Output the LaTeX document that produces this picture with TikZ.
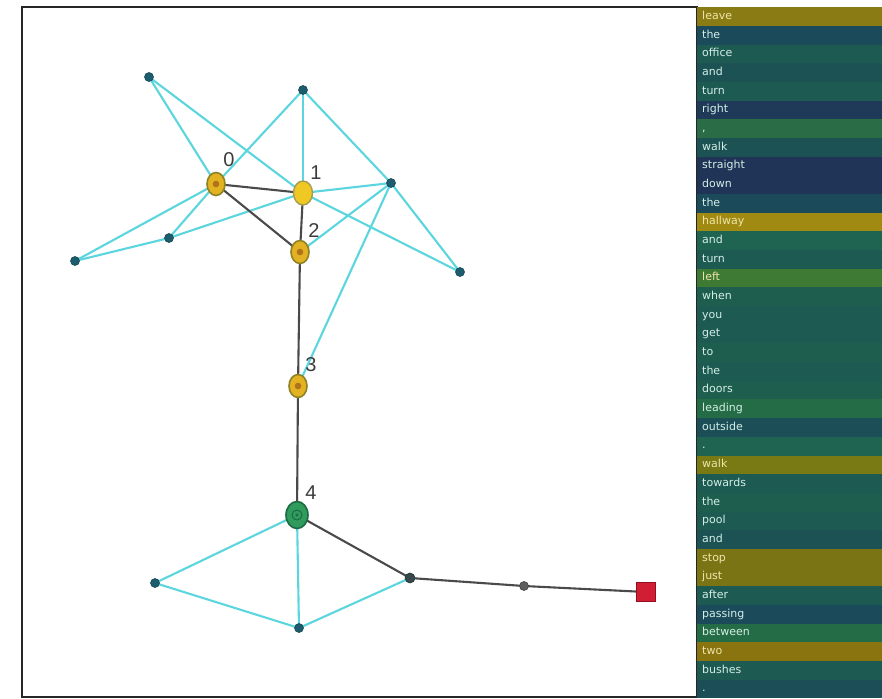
\documentclass[tikz,border=0pt]{standalone}
\usepackage{fontspec}
\setmainfont{DejaVu Sans}
\newfontfamily\labelfont{Liberation Sans}
\usetikzlibrary{shapes.geometric}

% graph colours
\definecolor{edgecyan}{HTML}{5CD6DE}
\definecolor{edgegrey}{HTML}{4A4A4A}
\definecolor{dotteal}{HTML}{1D5C6C}
\definecolor{ringgold}{HTML}{E2B222}
\definecolor{ringolive}{HTML}{8E8226}
\definecolor{corebrown}{HTML}{B0721A}
\definecolor{brightgold}{HTML}{F0C823}
\definecolor{nodegreen}{HTML}{2F9B5D}
\definecolor{nodegreendk}{HTML}{1C6B44}
\definecolor{goalred}{HTML}{D21E34}
\definecolor{goalreddk}{HTML}{931020}
\definecolor{labelgrey}{HTML}{3C3C3C}
\definecolor{junctiondot}{HTML}{37474B}
\definecolor{junctionrim}{HTML}{263234}
\definecolor{waydot}{HTML}{5E5E5E}
\definecolor{wayrim}{HTML}{444444}
% word column colours
\definecolor{gd}{HTML}{8A7B14}
\definecolor{gdb}{HTML}{A08A12}
\definecolor{gdc}{HTML}{8A7410}
\definecolor{ol}{HTML}{7A7A14}
\definecolor{olb}{HTML}{7A7414}
\definecolor{lf}{HTML}{3E7A34}
\definecolor{cm}{HTML}{2A6C46}
\definecolor{lg}{HTML}{246C46}
\definecolor{gr}{HTML}{1E6450}
\definecolor{grb}{HTML}{1E5E4E}
\definecolor{tg}{HTML}{1C5A52}
\definecolor{tq}{HTML}{1C5254}
\definecolor{tb}{HTML}{1B4A5B}
\definecolor{tbb}{HTML}{1C4E58}
\definecolor{nv}{HTML}{1F3456}
\definecolor{nvb}{HTML}{1E3A58}
\definecolor{wt}{HTML}{D4EEE6}
\definecolor{yl}{HTML}{EEE6A8}

\pgfdeclarelayer{paper}
\pgfdeclarelayer{edges}
\pgfsetlayers{paper,edges,main}

\tikzset{
  smalldot/.style={circle, fill=dotteal, draw=dotteal!80!black, line width=0.6,
                   minimum size=9, inner sep=0},
  ringnode/.style={ellipse, fill=ringgold, draw=ringolive, line width=1.6,
                   minimum width=18, minimum height=23, inner sep=0,
                   path picture={\fill[corebrown] (path picture bounding box.center) circle (3.3pt);}},
  fullnode/.style={ellipse, fill=brightgold, draw=ringolive!80, line width=1.4,
                   minimum width=19, minimum height=24, inner sep=0},
  greennode/.style={ellipse, fill=nodegreen, draw=nodegreendk, line width=1.6,
                   minimum width=22, minimum height=27, inner sep=0,
                   path picture={\draw[nodegreendk, line width=1] (path picture bounding box.center) circle (5pt);
                                 \fill[nodegreendk] (path picture bounding box.center) circle (1.6pt);}},
  junction/.style={circle, fill=junctiondot, draw=junctionrim, line width=0.6, minimum size=10, inner sep=0},
  waypoint/.style={circle, fill=waydot, draw=wayrim, line width=0.6, minimum size=9, inner sep=0},
  goalbox/.style={rectangle, fill=goalred, draw=goalreddk, line width=1.2,
                  minimum size=19, inner sep=0},
  cyanedge/.style={draw=edgecyan, line width=2.1},
  pathedge/.style={draw=edgegrey, line width=2.1},
  numlabel/.style={font=\labelfont\fontsize{20}{20}\selectfont, text=labelgrey, inner sep=0},
  wordrow/.style={anchor=north west, rectangle, minimum width=185, minimum height=18.7,
                  text width=175, text height=8.2, text depth=2.6,
                  inner xsep=5, inner ysep=0, align=left,
                  font=\fontsize{11}{11}\selectfont}
}

\begin{document}
\begin{tikzpicture}[x=1pt, y=-1pt]
\useasboundingbox (0,0) rectangle (882,698);
\begin{pgfonlayer}{paper}
  \fill[white] (0,0) rectangle (882,698);
\end{pgfonlayer}

% outer frame of the graph panel
\draw[line width=2.2, black!85] (22,7) rectangle (697,697);

% landmark nodes
\node[smalldot] (a) at (149,77) {};
\node[smalldot] (b) at (303,90) {};
\node[smalldot] (c) at (391,183) {};
\node[smalldot] (d) at (169,238) {};
\node[smalldot] (e) at (75,261) {};
\node[smalldot] (f) at (460,272) {};
\node[smalldot] (g) at (155,583) {};
\node[smalldot] (k) at (299,628) {};

% path nodes
\node[ringnode]  (n0) at (216,184) {};
\node[fullnode]  (n1) at (303,193) {};
\node[ringnode]  (n2) at (300,252) {};
\node[ringnode]  (n3) at (298,386) {};
\node[greennode] (n4) at (297,515) {};
\node[junction]  (h) at (410,578) {};
\node[waypoint]  (i) at (524,586) {};
\node[goalbox]   (j) at (646,592) {};

% node numbers
\node[numlabel] (l0) at (229,160) {0};
\node[numlabel] (l1) at (316,173) {1};
\node[numlabel] (l2) at (314,231) {2};
\node[numlabel] (l3) at (311,365) {3};
\node[numlabel] (l4) at (311,493) {4};

\begin{pgfonlayer}{edges}
  % visibility edges
  \draw[cyanedge] (a.center) -- (n0.center);
  \draw[cyanedge] (a.center) -- (n1.center);
  \draw[cyanedge] (b.center) -- (n0.center);
  \draw[cyanedge] (b.center) -- (n1.center);
  \draw[cyanedge] (b.center) -- (c.center);
  \draw[cyanedge] (n0.center) -- (e.center);
  \draw[cyanedge] (n0.center) -- (d.center);
  \draw[cyanedge] (d.center) -- (e.center);
  \draw[cyanedge] (d.center) -- (n1.center);
  \draw[cyanedge] (n1.center) -- (c.center);
  \draw[cyanedge] (n1.center) -- (f.center);
  \draw[cyanedge] (c.center) -- (n2.center);
  \draw[cyanedge] (c.center) -- (f.center);
  \draw[cyanedge] (c.center) -- (n3.center);
  \draw[cyanedge] (n4.center) -- (g.center);
  \draw[cyanedge] (n4.center) -- (k.center);
  \draw[cyanedge] (g.center) -- (k.center);
  \draw[cyanedge] (k.center) -- (h.center);
  % followed route
  \draw[pathedge] (n0.center) -- (n1.center);
  \draw[pathedge] (n0.center) -- (n2.center);
  \draw[pathedge] (n1.center) -- (n2.center);
  \draw[pathedge] (n2.center) -- (n3.center);
  \draw[pathedge] (n3.center) -- (n4.center);
  \draw[pathedge] (n4.center) -- (h.center);
  \draw[pathedge] (h.center) -- (i.center);
  \draw[pathedge] (i.center) -- (j.center);
\end{pgfonlayer}

% instruction words with their attention shading
\foreach \w/\c/\t [count=\n from 0] in {
  leave/gd/yl, the/tb/wt, office/tg/wt, and/tq/wt, turn/tg/wt, right/nvb/wt,
  {,}/cm/wt, walk/tq/wt, straight/nv/wt, down/nv/wt, the/tb/wt, hallway/gdb/yl,
  and/gr/wt, turn/tg/wt, left/lf/yl, when/grb/wt, you/tg/wt, get/tg/wt,
  to/grb/wt, the/tg/wt, doors/grb/wt, leading/lg/wt, outside/tbb/wt, ./gr/wt,
  walk/ol/yl, towards/tg/wt, the/grb/wt, pool/tg/wt, and/tq/wt, stop/olb/yl,
  just/olb/yl, after/tg/wt, passing/tb/wt, between/lg/wt, two/gdc/yl,
  bushes/tg/wt, ./tbb/wt} {
  \node[wordrow, fill=\c, text=\t] (w\n) at (697,{7+18.68*\n}) {\w};
}
\end{tikzpicture}
\end{document}
